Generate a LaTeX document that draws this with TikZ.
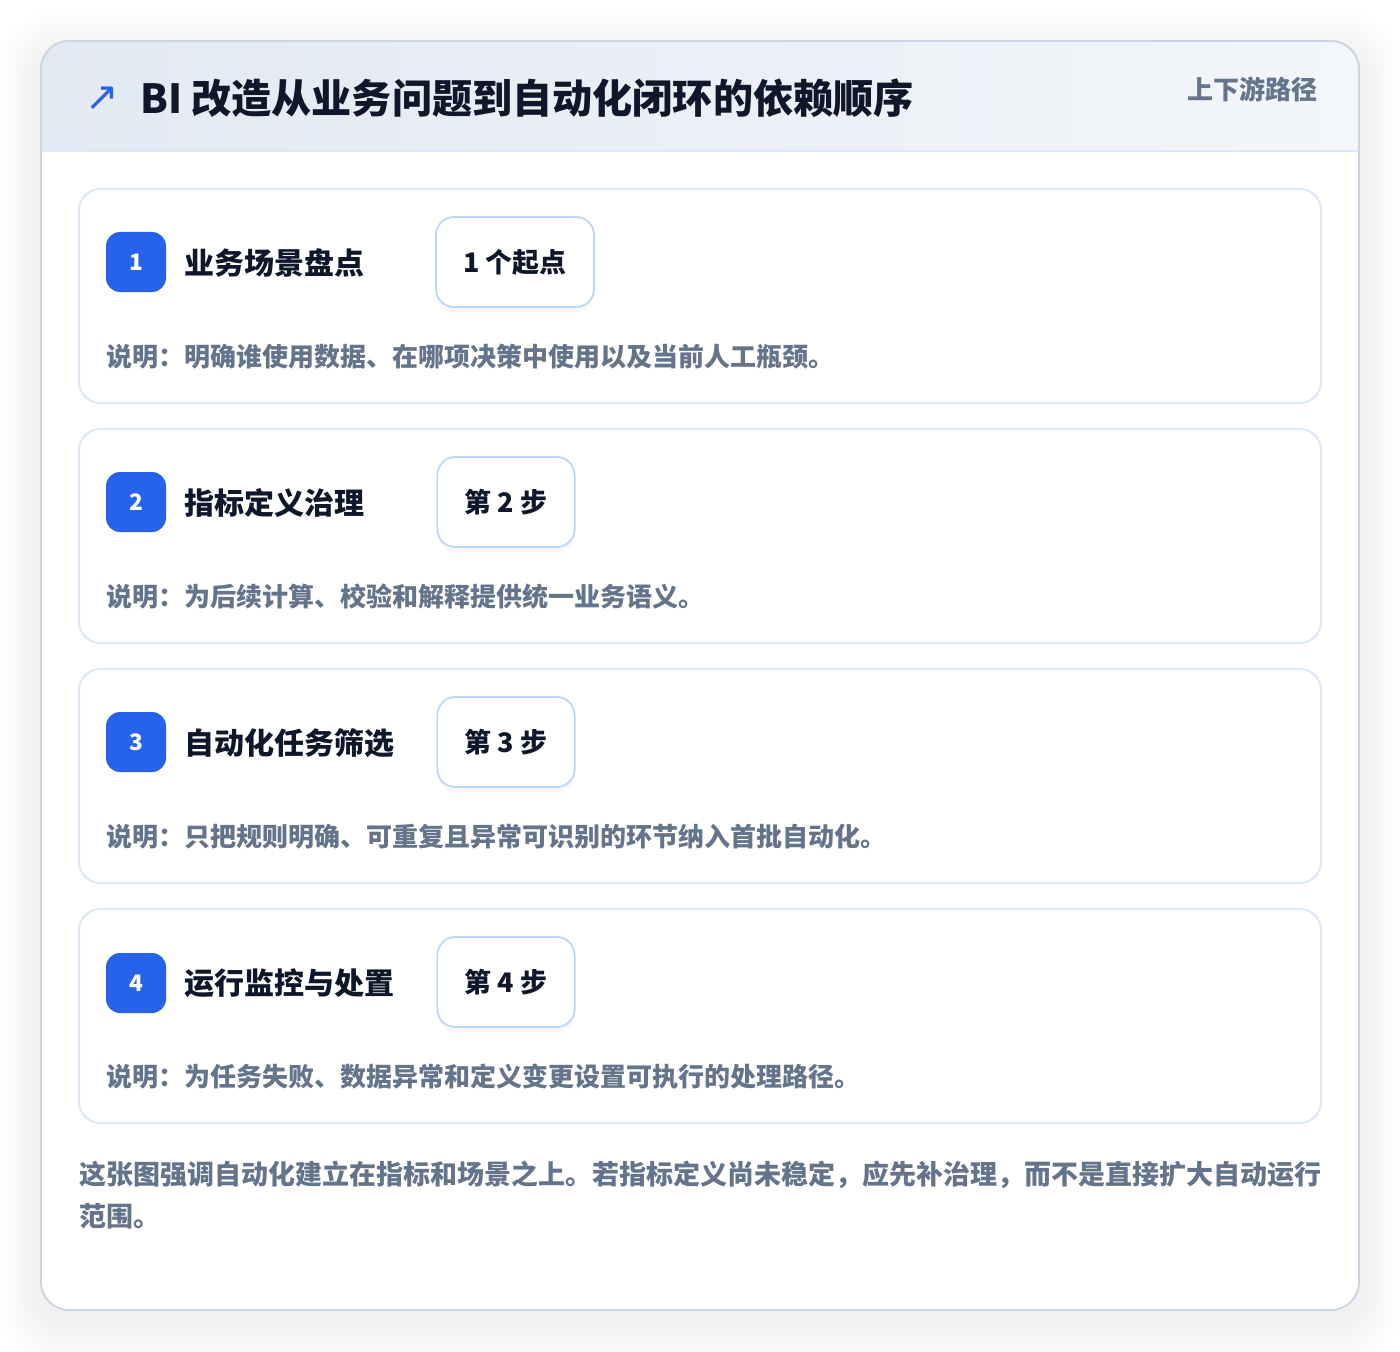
\documentclass[tikz,border=0pt]{standalone}
\usepackage{fontspec}
\setmainfont{Noto Sans CJK SC}
\newfontfamily\symfont{DejaVu Sans}
\usetikzlibrary{shadows}
\definecolor{ink}{HTML}{0F172A}
\definecolor{muted}{HTML}{64748B}
\definecolor{accent}{HTML}{2563EB}
\definecolor{cardline}{HTML}{DCE8F6}
\definecolor{pillline}{HTML}{BCD5F3}
\definecolor{outline}{HTML}{CBD5E1}
\definecolor{hdrL}{HTML}{E3E9F2}
\definecolor{hdrR}{HTML}{F3F6FA}
\tikzset{
  card/.style={draw=cardline, line width=1.5pt, fill=white, rounded corners=16pt,
    minimum width=931.5pt, minimum height=160.5pt, inner sep=0pt},
  badge/.style={fill=accent, rounded corners=10.5pt, minimum size=45pt, inner sep=0pt,
    text=white, font=\fontsize{17}{17}\selectfont\bfseries},
  ttl/.style={anchor=west, inner sep=0pt, text=ink, font=\fontsize{22.5}{22.5}\selectfont\bfseries},
  pill/.style={draw=pillline, line width=1.3pt, fill=white, rounded corners=13.5pt,
    minimum height=67.5pt, inner xsep=20.5pt, text=ink,
    font=\fontsize{20.2}{20.2}\selectfont\bfseries,
    drop shadow={opacity=0.05, shadow xshift=0pt, shadow yshift=-4pt}},
  desc/.style={anchor=west, inner sep=0pt, text=muted, font=\fontsize{19.5}{19.5}\selectfont\bfseries},
  note/.style={anchor=west, inner sep=0pt, text=muted, font=\fontsize{20.25}{20.25}\selectfont\bfseries},
}
\begin{document}
\begin{tikzpicture}[x=0.75pt,y=-0.75pt]
\useasboundingbox (0,0) rectangle (1400,1352);
\fill[white] (0,0) rectangle (1400,1352);
% soft outer shadow
\foreach \i in {1,...,14}{
  \fill[black, opacity=0.0055, rounded corners={(21+1.5*\i)*1pt}]
    ({41-3*\i},{41-3*\i+12}) rectangle ({1359+3*\i},{1310+3*\i+12});
}
% main card
\fill[white, rounded corners=21pt] (41,41) rectangle (1359,1310);
\begin{scope}
  \clip[rounded corners=21pt] (41,41) rectangle (1359,1310);
  \shade[left color=hdrL, right color=hdrR] (41,41) rectangle (1359,151);
\end{scope}
\draw[cardline, line width=1.2pt] (41,151) -- (1359,151);
\draw[outline, line width=1.4pt, rounded corners=21pt] (41,41) rectangle (1359,1310);

% header
\node[inner sep=0pt, text=accent, font=\symfont\fontsize{30}{30}\selectfont] (icon) at (102,99) {↗};
\node[anchor=west, inner sep=0pt, text=ink, font=\fontsize{30.1}{30.1}\selectfont\bfseries] (title) at (140,98) {BI 改造从业务问题到自动化闭环的依赖顺序};
\node[anchor=east, inner sep=0pt, text=muted, font=\fontsize{19.5}{19.5}\selectfont\bfseries] (tag) at (1318,89) {上下游路径};

% cards
\node[card] (c1) at (700,296) {};
\node[badge] (b1) at (136,262) {1};
\node[ttl] (t1) at (184,263) {业务场景盘点};
\node[pill] (p1) at (515,262) {1 个起点};
\node[desc] (d1) at (106,357) {说明：明确谁使用数据、在哪项决策中使用以及当前人工瓶颈。};

\node[card] (c2) at (700,536) {};
\node[badge] (b2) at (136,502) {2};
\node[ttl] (t2) at (184,503) {指标定义治理};
\node[pill] (p2) at (506,502) {第 2 步};
\node[desc] (d2) at (106,597) {说明：为后续计算、校验和解释提供统一业务语义。};

\node[card] (c3) at (700,776) {};
\node[badge] (b3) at (136,742) {3};
\node[ttl] (t3) at (184,743) {自动化任务筛选};
\node[pill] (p3) at (506,742) {第 3 步};
\node[desc] (d3) at (106,837) {说明：只把规则明确、可重复且异常可识别的环节纳入首批自动化。};

\node[card] (c4) at (700,1016) {};
\node[badge] (b4) at (136,983) {4};
\node[ttl] (t4) at (184,983) {运行监控与处置};
\node[pill] (p4) at (506,982) {第 4 步};
\node[desc] (d4) at (106,1077) {说明：为任务失败、数据异常和定义变更设置可执行的处理路径。};

% footer note
\node[note] (n1) at (79,1175) {这张图强调自动化建立在指标和场景之上。若指标定义尚未稳定，应先补治理，而不是直接扩大自动运行};
\node[note] (n2) at (79,1216) {范围。};
\end{tikzpicture}
\end{document}
